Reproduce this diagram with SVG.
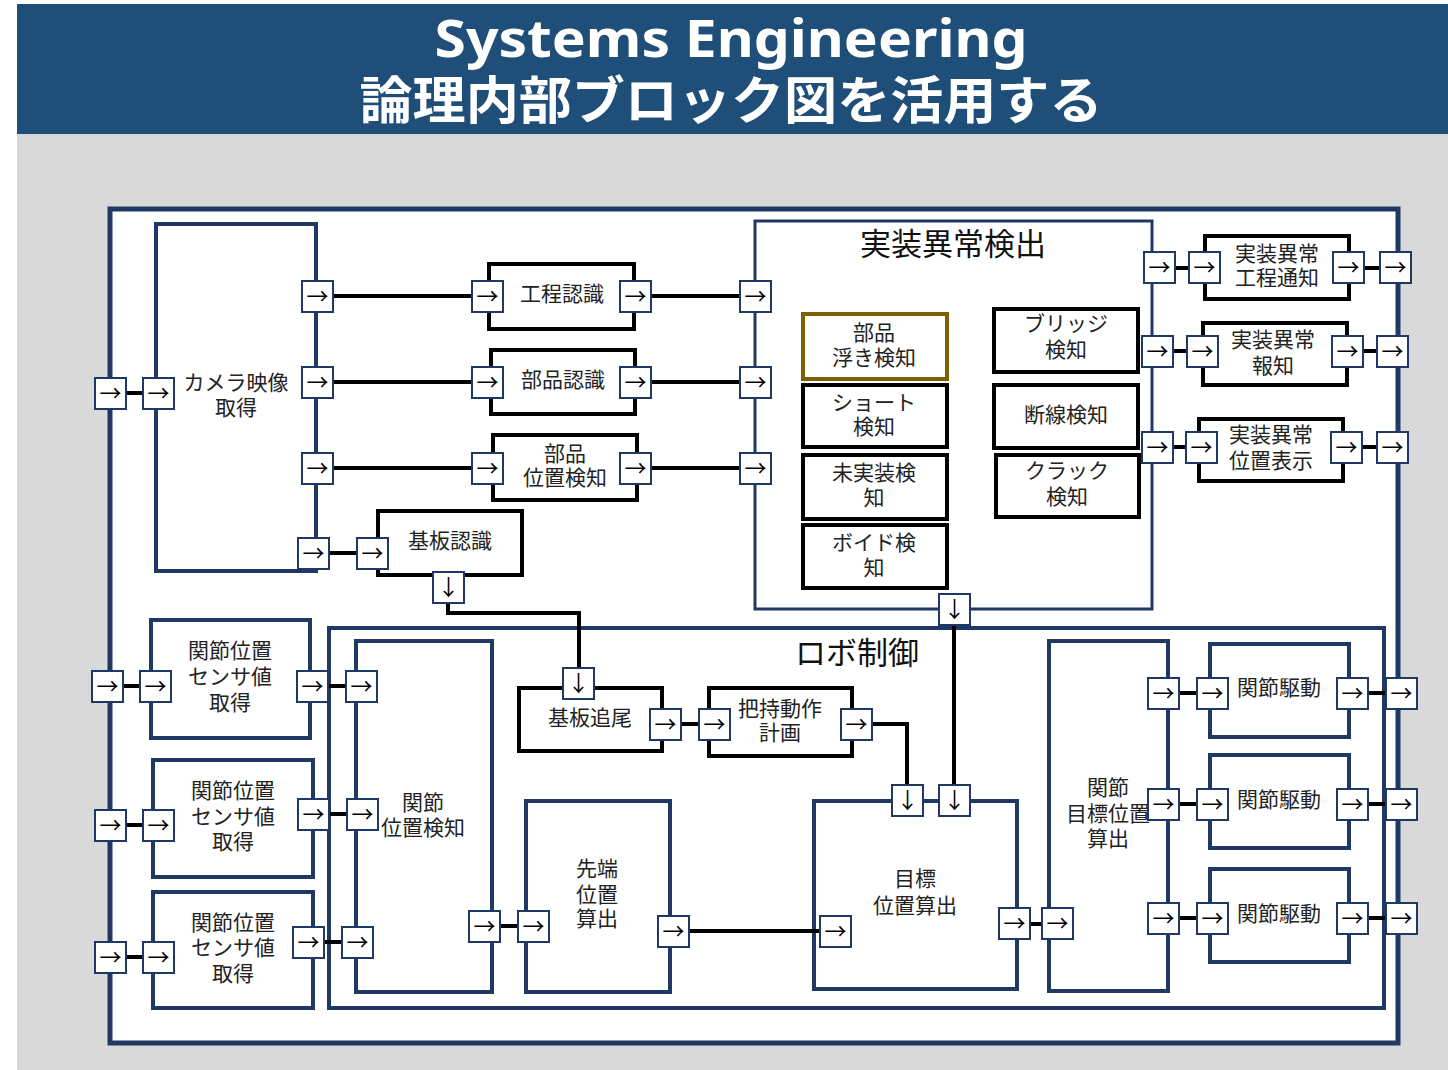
<svg xmlns="http://www.w3.org/2000/svg" xmlns:xlink="http://www.w3.org/1999/xlink" width="1448" height="1070" viewBox="0 0 1448 1070">
<style>
.nv{fill:#fff;stroke:#1F3864;stroke-width:4}
.nv3{fill:#fff;stroke:#1F3864;stroke-width:3}
.bk{fill:#fff;stroke:#000;stroke-width:4}
.gd{fill:#fff;stroke:#7F6000;stroke-width:4}
.t{font-family:"Noto Sans CJK JP","Noto Sans",sans-serif;font-size:21px;fill:#222;text-anchor:middle}
.tt{font-family:"Noto Sans CJK JP","Noto Sans",sans-serif;font-size:31px;fill:#111;text-anchor:middle}
.c{fill:none;stroke:#000;stroke-width:4}
.pb{fill:#fff;stroke:#1F3864;stroke-width:2}
.pa{font-family:"Noto Sans CJK JP","DejaVu Sans",sans-serif;font-size:22px;fill:#000;text-anchor:middle}
</style>
<defs>
<g id="pR"><rect class="pb" x="0" y="0" width="31" height="31"/><text class="pa" x="15.5" y="23">→</text></g>
<g id="pD"><rect class="pb" x="0" y="0" width="31" height="31"/><text class="pa" x="15.5" y="23">↓</text></g>
</defs>
<rect x="0" y="0" width="1448" height="1070" fill="#fff"/>
<rect x="17" y="134" width="1431" height="936" fill="#D9D9D9"/>
<g id="header">
<rect x="17" y="4" width="1431" height="130" fill="#1F4E79"/>
<text x="731" y="57" font-family="'Noto Sans','Open Sans',sans-serif" font-size="52" font-weight="bold" fill="#fff" text-anchor="middle" textLength="593" lengthAdjust="spacingAndGlyphs">Systems Engineering</text>
<text x="731" y="119" font-family="'Noto Sans CJK JP',sans-serif" font-size="51" font-weight="bold" fill="#fff" text-anchor="middle" textLength="743" lengthAdjust="spacingAndGlyphs">論理内部ブロック図を活用する</text>
</g>
<g id="frame"><rect x="110" y="209" width="1288" height="834" fill="#fff" stroke="#1F3864" stroke-width="5"/></g>

<g id="camera"><rect class="nv" x="156" y="224" width="160" height="347"/><text class="t" x="236" y="390">カメラ映像</text><text class="t" x="236" y="415">取得</text></g>
<g id="kotei"><rect class="bk" x="489" y="264" width="145" height="65"/><text class="t" x="562" y="301">工程認識</text></g>
<g id="buhin"><rect class="bk" x="491" y="350" width="144" height="64"/><text class="t" x="563" y="387">部品認識</text></g>
<g id="buhinichi"><rect class="bk" x="493" y="435" width="144" height="65"/><text class="t" x="565" y="461">部品</text><text class="t" x="565" y="485">位置検知</text></g>
<g id="kiban"><rect class="bk" x="378" y="511" width="144" height="64"/><text class="t" x="450" y="548">基板認識</text></g>

<g id="detect">
<rect class="nv3" x="755" y="221" width="397" height="388"/>
<text class="tt" x="953" y="255">実装異常検出</text>
<g id="uki"><rect class="gd" x="803" y="314" width="144" height="65"/><text class="t" x="874" y="340">部品</text><text class="t" x="874" y="365">浮き検知</text></g>
<g id="short"><rect class="bk" x="803" y="385" width="144" height="62"/><text class="t" x="874" y="410">ショート</text><text class="t" x="874" y="434">検知</text></g>
<g id="mijisso"><rect class="bk" x="803" y="455" width="144" height="64"/><text class="t" x="874" y="480">未実装検</text><text class="t" x="874" y="505">知</text></g>
<g id="void"><rect class="bk" x="803" y="525" width="144" height="63"/><text class="t" x="874" y="550">ボイド検</text><text class="t" x="874" y="575">知</text></g>
<g id="bridge"><rect class="bk" x="994" y="309" width="144" height="63"/><text class="t" x="1066" y="331">ブリッジ</text><text class="t" x="1066" y="357">検知</text></g>
<g id="dansen"><rect class="bk" x="994" y="385" width="144" height="63"/><text class="t" x="1066" y="422">断線検知</text></g>
<g id="crack"><rect class="bk" x="996" y="455" width="143" height="62"/><text class="t" x="1067" y="478">クラック</text><text class="t" x="1067" y="504">検知</text></g>
</g>

<g id="notify1"><rect class="bk" x="1205" y="236" width="144" height="63"/><text class="t" x="1277" y="261">実装異常</text><text class="t" x="1277" y="285">工程通知</text></g>
<g id="notify2"><rect class="bk" x="1203" y="323" width="144" height="62"/><text class="t" x="1273" y="347">実装異常</text><text class="t" x="1273" y="373">報知</text></g>
<g id="notify3"><rect class="bk" x="1199" y="419" width="144" height="62"/><text class="t" x="1271" y="442">実装異常</text><text class="t" x="1271" y="468">位置表示</text></g>

<g id="sensor1"><rect class="nv" x="151" y="620" width="159" height="118"/><text class="t" x="230" y="658">関節位置</text><text class="t" x="230" y="684">センサ値</text><text class="t" x="230" y="710">取得</text></g>
<g id="sensor2"><rect class="nv" x="153" y="760" width="160" height="117"/><text class="t" x="233" y="798">関節位置</text><text class="t" x="233" y="824">センサ値</text><text class="t" x="233" y="849">取得</text></g>
<g id="sensor3"><rect class="nv" x="153" y="892" width="160" height="116"/><text class="t" x="233" y="930">関節位置</text><text class="t" x="233" y="955">センサ値</text><text class="t" x="233" y="981">取得</text></g>

<g id="robot">
<rect class="nv" x="329" y="628" width="1055" height="380"/>
<text class="tt" x="857" y="664">ロボ制御</text>
<g id="jointpos"><rect class="nv" x="356" y="641" width="136" height="351"/><text class="t" x="423" y="810">関節</text><text class="t" x="423" y="835">位置検知</text></g>
<g id="tracking"><rect class="bk" x="519" y="688" width="143" height="63"/><text class="t" x="590" y="725">基板追尾</text></g>
<g id="grasp"><rect class="bk" x="709" y="688" width="143" height="68"/><text class="t" x="780" y="716">把持動作</text><text class="t" x="780" y="740">計画</text></g>
<g id="tip"><rect class="nv" x="526" y="801" width="144" height="191"/><text class="t" x="597" y="876">先端</text><text class="t" x="597" y="902">位置</text><text class="t" x="597" y="926">算出</text></g>
<g id="target"><rect class="nv" x="814" y="801" width="203" height="188"/><text class="t" x="915" y="886">目標</text><text class="t" x="915" y="913">位置算出</text></g>
<g id="jointtarget"><rect class="nv" x="1049" y="641" width="119" height="350"/><text class="t" x="1108" y="795">関節</text><text class="t" x="1108" y="821">目標位置</text><text class="t" x="1108" y="846">算出</text></g>
<g id="drive1"><rect class="nv" x="1210" y="644" width="139" height="93"/><text class="t" x="1279" y="695">関節駆動</text></g>
<g id="drive2"><rect class="nv" x="1210" y="755" width="139" height="93"/><text class="t" x="1279" y="807">関節駆動</text></g>
<g id="drive3"><rect class="nv" x="1210" y="869" width="139" height="93"/><text class="t" x="1279" y="921">関節駆動</text></g>
</g>

<g id="connectors">
<path class="c" d="M126 393H143"/>
<path class="c" d="M332 296H472M332 382H472M332 468H472"/>
<path class="c" d="M651 296H740M651 382H740M651 468H740"/>
<path class="c" d="M329 553H357"/>
<path class="c" d="M448 603V613H579V668"/>
<path class="c" d="M954 625V785"/>
<path class="c" d="M681 724H699"/>
<path class="c" d="M872 724H907V785"/>
<path class="c" d="M1175 268H1189M1173 351H1187M1173 447H1186"/>
<path class="c" d="M1364 268H1380M1363 351H1377M1362 447H1377"/>
<path class="c" d="M123 686H140M126 825H143M126 957H143"/>
<path class="c" d="M327 686H346M328 814H347M324 942H342"/>
<path class="c" d="M500 926H518"/>
<path class="c" d="M689 931H820"/>
<path class="c" d="M1030 924H1042"/>
<path class="c" d="M1179 693H1197M1179 804H1197M1179 918H1197"/>
<path class="c" d="M1368 693H1386M1368 804H1386M1368 918H1386"/>
</g>

<g id="ports">
<use xlink:href="#pR" x="95" y="378"/>
<use xlink:href="#pR" x="143" y="378"/>
<use xlink:href="#pR" x="302" y="281"/>
<use xlink:href="#pR" x="302" y="367"/>
<use xlink:href="#pR" x="302" y="453"/>
<use xlink:href="#pR" x="298" y="538"/>
<use xlink:href="#pR" x="472" y="281"/>
<use xlink:href="#pR" x="620" y="281"/>
<use xlink:href="#pR" x="472" y="367"/>
<use xlink:href="#pR" x="620" y="367"/>
<use xlink:href="#pR" x="472" y="453"/>
<use xlink:href="#pR" x="620" y="453"/>
<use xlink:href="#pR" x="740" y="281"/>
<use xlink:href="#pR" x="740" y="367"/>
<use xlink:href="#pR" x="740" y="453"/>
<use xlink:href="#pR" x="357" y="538"/>
<use xlink:href="#pD" x="433" y="572"/>
<use xlink:href="#pD" x="939" y="594"/>
<use xlink:href="#pR" x="1144" y="252"/>
<use xlink:href="#pR" x="1189" y="252"/>
<use xlink:href="#pR" x="1333" y="252"/>
<use xlink:href="#pR" x="1380" y="252"/>
<use xlink:href="#pR" x="1142" y="336"/>
<use xlink:href="#pR" x="1187" y="336"/>
<use xlink:href="#pR" x="1332" y="336"/>
<use xlink:href="#pR" x="1377" y="336"/>
<use xlink:href="#pR" x="1142" y="432"/>
<use xlink:href="#pR" x="1186" y="432"/>
<use xlink:href="#pR" x="1331" y="432"/>
<use xlink:href="#pR" x="1377" y="432"/>
<use xlink:href="#pR" x="92" y="671"/>
<use xlink:href="#pR" x="140" y="671"/>
<use xlink:href="#pR" x="297" y="671"/>
<use xlink:href="#pR" x="346" y="671"/>
<use xlink:href="#pR" x="95" y="810"/>
<use xlink:href="#pR" x="143" y="810"/>
<use xlink:href="#pR" x="298" y="799"/>
<use xlink:href="#pR" x="347" y="799"/>
<use xlink:href="#pR" x="95" y="942"/>
<use xlink:href="#pR" x="143" y="942"/>
<use xlink:href="#pR" x="293" y="927"/>
<use xlink:href="#pR" x="342" y="927"/>
<use xlink:href="#pR" x="469" y="911"/>
<use xlink:href="#pR" x="518" y="911"/>
<use xlink:href="#pR" x="658" y="916"/>
<use xlink:href="#pR" x="820" y="916"/>
<use xlink:href="#pR" x="999" y="908"/>
<use xlink:href="#pD" x="892" y="785"/>
<use xlink:href="#pD" x="939" y="785"/>
<use xlink:href="#pD" x="563" y="668"/>
<use xlink:href="#pR" x="650" y="709"/>
<use xlink:href="#pR" x="699" y="709"/>
<use xlink:href="#pR" x="841" y="709"/>
<use xlink:href="#pR" x="1042" y="908"/>
<use xlink:href="#pR" x="1148" y="678"/>
<use xlink:href="#pR" x="1148" y="789"/>
<use xlink:href="#pR" x="1148" y="903"/>
<use xlink:href="#pR" x="1197" y="678"/>
<use xlink:href="#pR" x="1197" y="789"/>
<use xlink:href="#pR" x="1197" y="903"/>
<use xlink:href="#pR" x="1337" y="678"/>
<use xlink:href="#pR" x="1337" y="789"/>
<use xlink:href="#pR" x="1337" y="903"/>
<use xlink:href="#pR" x="1386" y="678"/>
<use xlink:href="#pR" x="1386" y="789"/>
<use xlink:href="#pR" x="1386" y="903"/>
</g>
</svg>
